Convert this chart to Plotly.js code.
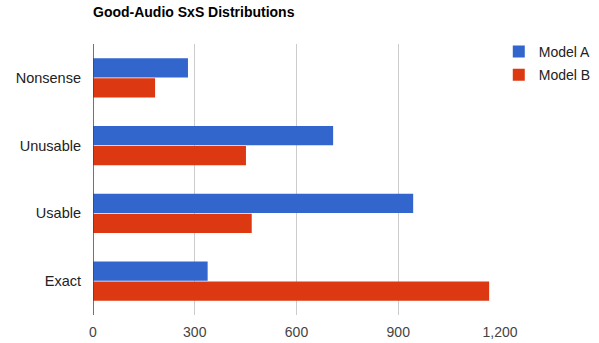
<!DOCTYPE html>
<html>
<head>
<meta charset="utf-8">
<script src="https://cdn.plot.ly/plotly-3.0.1.min.js"></script>
<style>
  html, body { margin: 0; padding: 0; background: #fff; }
  #chart { width: 599px; height: 343px; }
</style>
</head>
<body>
<div id="chart"></div>
<script>
// Rating categories, top to bottom
const categories = ['Nonsense', 'Unusable', 'Usable', 'Exact'];
// Counts per rating for each model
const modelA = [280, 708, 944, 338];
const modelB = [183, 451, 468, 1168];
const xTicks = [0, 300, 600, 900, 1200];
const xTickLabels = ['0', '300', '600', '900', '1,200'];

const font = 'Liberation Sans, Arial, sans-serif';

const traces = [
  {
    type: 'bar', orientation: 'h', name: 'Model A', legendgroup: 'a',
    y: categories, x: modelA,
    marker: { color: '#3366cc' }
  },
  {
    type: 'bar', orientation: 'h', name: 'Model B', legendgroup: 'b',
    y: categories, x: modelB,
    marker: { color: '#dc3912' }
  }
];

const layout = {
  width: 599, height: 343,
  margin: { l: 93, r: 99, t: 44, b: 28, autoexpand: false },
  paper_bgcolor: '#fff', plot_bgcolor: '#fff',
  font: { family: font, size: 14, color: '#222' },
  title: {
    text: '<b>Good-Audio SxS Distributions</b>',
    x: 0, xref: 'paper', xanchor: 'left',
    y: 1, yref: 'container', yanchor: 'top', pad: { t: 7 },
    font: { family: font, size: 14, color: '#000' }
  },
  barmode: 'group', bargap: 0.41, bargroupgap: 0.04,
  showlegend: true,
  legend: {
    x: 0.997, xanchor: 'left', y: 1.03, yanchor: 'top',
    font: { family: font, size: 14, color: '#222' },
    traceorder: 'grouped', tracegroupgap: 2,
    itemwidth: 30
  },
  xaxis: {
    range: [0, 1200], tickvals: xTicks, ticktext: xTickLabels,
    showgrid: true, gridcolor: '#cccccc', gridwidth: 1,
    zeroline: false, showline: false, ticks: '',
    ticklabelstandoff: 7,
    tickfont: { family: font, size: 14, color: '#444' },
    fixedrange: true
  },
  yaxis: {
    type: 'category', categoryorder: 'array', categoryarray: categories,
    autorange: 'reversed',
    showgrid: false, zeroline: false,
    showline: false, ticks: '', ticklabelstandoff: 11,
    tickfont: { family: font, size: 14.5, color: '#222' },
    fixedrange: true
  },
  shapes: [{
    type: 'line', xref: 'x', yref: 'paper',
    x0: 0, x1: 0, y0: 0, y1: 1,
    line: { color: '#444', width: 1.5 }
  }]
};

Plotly.newPlot('chart', traces, layout, { displayModeBar: false, staticPlot: true });
</script>
</body>
</html>
